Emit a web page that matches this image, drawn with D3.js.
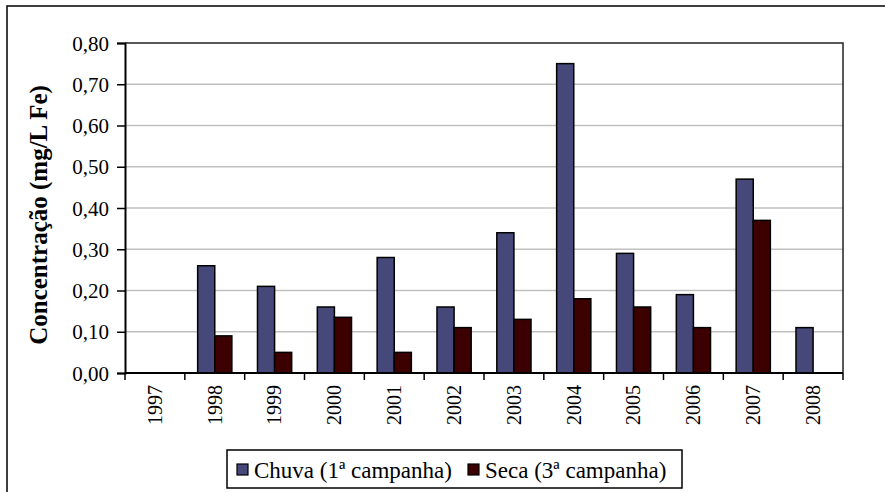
<!DOCTYPE html>
<html>
<head>
<meta charset="utf-8">
<script src="https://cdn.jsdelivr.net/npm/d3@7"></script>
</head>
<body style="margin:0;background:#fff">
<svg id="chart" width="885" height="492" style="display:block"></svg>
<script>
// Iron concentration per year, rainy vs dry campaign
const years = ["1997","1998","1999","2000","2001","2002","2003","2004","2005","2006","2007","2008"];
const chuva = [null, 0.26, 0.21, 0.16, 0.28, 0.16, 0.34, 0.75, 0.29, 0.19, 0.47, 0.11];
const seca  = [null, 0.09, 0.05, 0.135, 0.05, 0.11, 0.13, 0.18, 0.16, 0.11, 0.37, null];
const seriesNames = ["Chuva (1ª campanha)", "Seca (3ª campanha)"];
const seriesColors = ["#47487A", "#3C0000"];
const yTicks = [0, 0.1, 0.2, 0.3, 0.4, 0.5, 0.6, 0.7, 0.8];
const yTitle = "Concentração (mg/L Fe)";

const FONT = "Liberation Serif";

const svg = d3.select("#chart");
const plot = { left: 125, right: 843, top: 43, bottom: 373 };

// outer chart frame
svg.append("rect")
  .attr("x", 7).attr("y", 6).attr("width", 900).attr("height", 500)
  .attr("fill", "#fff").attr("stroke", "#000").attr("stroke-width", 1.5);

const x = d3.scaleBand().domain(years).range([plot.left, plot.right]).padding(0);
const y = d3.scaleLinear().domain([0, 0.8]).range([plot.bottom, plot.top]);

// horizontal gridlines
svg.append("g")
  .selectAll("line")
  .data(yTicks.filter(t => t > 0 && t < 0.8))
  .join("line")
  .attr("x1", plot.left).attr("x2", plot.right)
  .attr("y1", d => y(d)).attr("y2", d => y(d))
  .attr("stroke", "#c0c0c0").attr("stroke-width", 1.5);

// plot area border (top and right)
svg.append("path")
  .attr("d", `M${plot.left},${plot.top}H${plot.right}V${plot.bottom}`)
  .attr("fill", "none").attr("stroke", "#222").attr("stroke-width", 1.5);

// bars: 150% gap width, two series side by side
const groupPad = x.bandwidth() * 1.5 / 3.5;
const xs = d3.scaleBand().domain([0, 1])
  .range([groupPad / 2, x.bandwidth() - groupPad / 2]).padding(0);

const rows = [];
years.forEach((yr, i) => {
  [chuva[i], seca[i]].forEach((v, s) => {
    if (v != null) rows.push({ yr, s, v });
  });
});

svg.append("g")
  .selectAll("rect")
  .data(rows)
  .join("rect")
  .attr("x", d => x(d.yr) + xs(d.s))
  .attr("y", d => y(d.v))
  .attr("width", xs.bandwidth())
  .attr("height", d => y(0) - y(d.v))
  .attr("fill", d => seriesColors[d.s])
  .attr("stroke", "#000")
  .attr("stroke-width", 1.5);

// y axis
const yAxis = d3.axisLeft(y)
  .tickValues(yTicks)
  .tickFormat(d => d3.format(".2f")(d).replace(".", ","))
  .tickSize(8).tickPadding(8);
const gy = svg.append("g").attr("transform", `translate(${plot.left},0)`).call(yAxis);
gy.select(".domain").attr("stroke", "#000").attr("stroke-width", 2);
gy.selectAll(".tick line").attr("stroke", "#000").attr("stroke-width", 1.5);
gy.selectAll("text")
  .attr("dy", "0.34em").attr("fill", "#000")
  .attr("font-family", FONT).attr("font-size", 21);

// x axis: ticks at category boundaries, labels rotated
const gx = svg.append("g").attr("transform", `translate(0,${plot.bottom})`);
gx.append("line")
  .attr("x1", plot.left).attr("x2", plot.right)
  .attr("stroke", "#000").attr("stroke-width", 2);
gx.selectAll(".bound")
  .data(years.map(d => x(d)).concat([plot.right]))
  .join("line")
  .attr("class", "bound")
  .attr("x1", d => d).attr("x2", d => d)
  .attr("y1", 0).attr("y2", 7)
  .attr("stroke", "#000").attr("stroke-width", 1.5);
gx.selectAll(".lbl")
  .data(years)
  .join("text")
  .attr("class", "lbl")
  .attr("transform", d => `translate(${x(d) + x.bandwidth() / 2},12) rotate(-90)`)
  .attr("text-anchor", "end")
  .attr("dy", "0.34em")
  .attr("fill", "#000")
  .attr("font-family", FONT).attr("font-size", 20)
  .text(d => d);

// y axis title
svg.append("text")
  .attr("transform", `translate(38,${(plot.top + plot.bottom) / 2 + 7}) rotate(-90)`)
  .attr("text-anchor", "middle")
  .attr("dy", "0.34em")
  .attr("font-family", FONT)
  .attr("font-size", 25)
  .attr("font-weight", "bold")
  .attr("fill", "#000")
  .text(yTitle);

// legend
const lg = svg.append("g");
lg.append("rect")
  .attr("x", 227).attr("y", 450).attr("width", 455).attr("height", 38)
  .attr("fill", "#fff").attr("stroke", "#000").attr("stroke-width", 1.5);
const legendX = [237, 468];
seriesNames.forEach((name, i) => {
  lg.append("rect")
    .attr("x", legendX[i]).attr("y", 464)
    .attr("width", 11).attr("height", 11)
    .attr("fill", seriesColors[i]).attr("stroke", "#000").attr("stroke-width", 1.2);
  lg.append("text")
    .attr("x", legendX[i] + 17).attr("y", 470)
    .attr("dy", "0.34em")
    .attr("fill", "#000")
    .attr("font-family", FONT).attr("font-size", 23)
    .text(name);
});
</script>
</body>
</html>
